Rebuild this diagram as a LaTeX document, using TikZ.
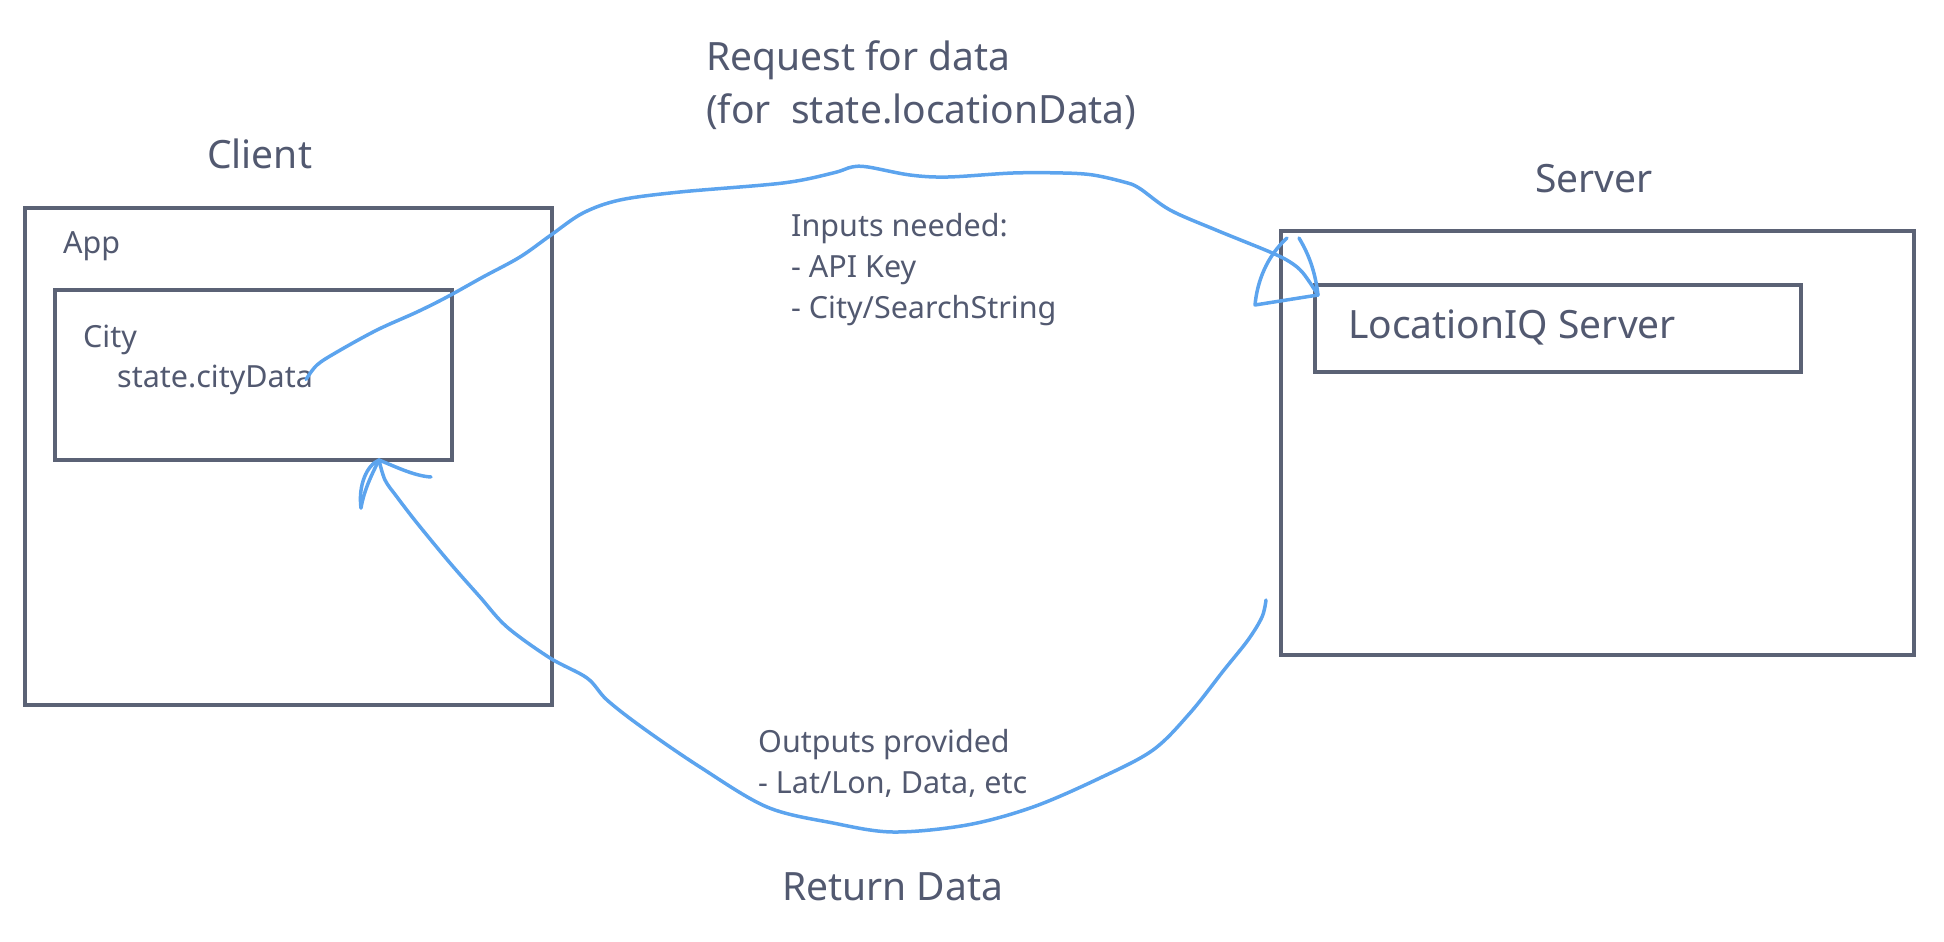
\documentclass[tikz,border=0pt]{standalone}
\usepackage{fontspec}
\setmainfont{Noto Sans}
\usepackage{xcolor}
\usepackage{tikz}
\usetikzlibrary{positioning,calc}

\definecolor{boxgray}{HTML}{5B6275}
\definecolor{labelgray}{HTML}{525970}
\definecolor{penblue}{HTML}{5CA4EE}

\begin{document}
\begin{tikzpicture}[x=1pt,y=-1pt,
    box/.style={draw=boxgray, line width=4pt, inner sep=0pt, anchor=north west},
    biglabel/.style={font=\fontsize{39}{53}\selectfont, text=labelgray, inner sep=0pt, anchor=base west, align=left},
    smalllabel/.style={font=\fontsize{30.5}{41}\selectfont, text=labelgray, inner sep=0pt, anchor=base west, align=left},
    pen/.style={draw=penblue, line width=3.5pt, line cap=round, line join=round}]
    \useasboundingbox (0,0) rectangle (1944,942);

    % client side
    \node[box, minimum width=527, minimum height=497] (client) at (23,206) {};
    \node[box, minimum width=397, minimum height=170] (city) at (53,288) {};
    \node[biglabel] (clienttitle) at (207,168) {Client};
    \node[smalllabel] (app) at (63,253) {App};
    \node[smalllabel] (citylabel) at (83,347) {City};
    \node[smalllabel] (citydata) at (117,387) {state.cityData};

    % server side
    \node[box, minimum width=633, minimum height=424] (server) at (1279,229) {};
    \node[box, minimum width=486, minimum height=87] (lociq) at (1313,283) {};
    \node[biglabel] (servertitle) at (1535,192) {Server};
    \node[biglabel] (lociqlabel) at (1348,338) {LocationIQ Server};

    % texts in between (base = last line)
    \node[biglabel] (request) at (706,123) {Request for data\\(for\ \ state.locationData)};
    \node[smalllabel] (inputs) at (791,318) {Inputs needed:\\- API Key\\- City/SearchString};
    \node[smalllabel] (outputs) at (758,793) {Outputs provided\\- Lat/Lon, Data, etc};
    \node[biglabel] (returndata) at (782,900) {Return Data};

    % request arrow
    \coordinate (reqtip) at (1318,295);
    \draw[pen] plot[smooth, tension=0.55] coordinates {([xshift=-7pt]citydata.east) (317,365) (337,352) (377,330)
        (417,312) (447,297) (483,277) (520,257) (551,235) (583,213) (620,200) (680,192) (783,183)
        (833,173) (852,167) (868,167) (910,175) (948,177) (1013,173) (1063,173) (1093,175) (1124,182)
        (1139,188) (1170,210) (1216,230) (1270,252) (1290,262) (1303,273) (reqtip)};
    \begin{scope}[shift={(reqtip)}]
        \draw[pen] (0,0) -- (-63,10) .. controls (-61,-12) and (-52,-38) .. (-31,-57);
        \draw[pen] (0,0) .. controls (-3,-25) and (-10,-42) .. (-19,-57);
    \end{scope}

    % return arrow
    \coordinate (retstart) at (1266,600);
    \coordinate (rettip) at (379,460);
    \draw[pen] plot[smooth, tension=0.55] coordinates {(retstart) (1262,617) (1248,640) (1224,670)
        (1190,713) (1153,750) (1100,778) (1033,807) (967,825) (893,832) (833,823) (767,807) (700,767)
        (643,728) (607,700) (587,678) (550,658) (507,627) (480,597) (450,563) (417,523) (397,497)
        (385,480) (rettip)};
    \begin{scope}[shift={(rettip)}]
        \draw[pen] (0,0) .. controls (-12,5) and (-21,25) .. (-18,48);
        \draw[pen] (0,0) .. controls (-7,14) and (-15,30) .. (-18,48);
        \draw[pen] (0,0) .. controls (15,6) and (35,16) .. (52,17);
    \end{scope}
\end{tikzpicture}
\end{document}
